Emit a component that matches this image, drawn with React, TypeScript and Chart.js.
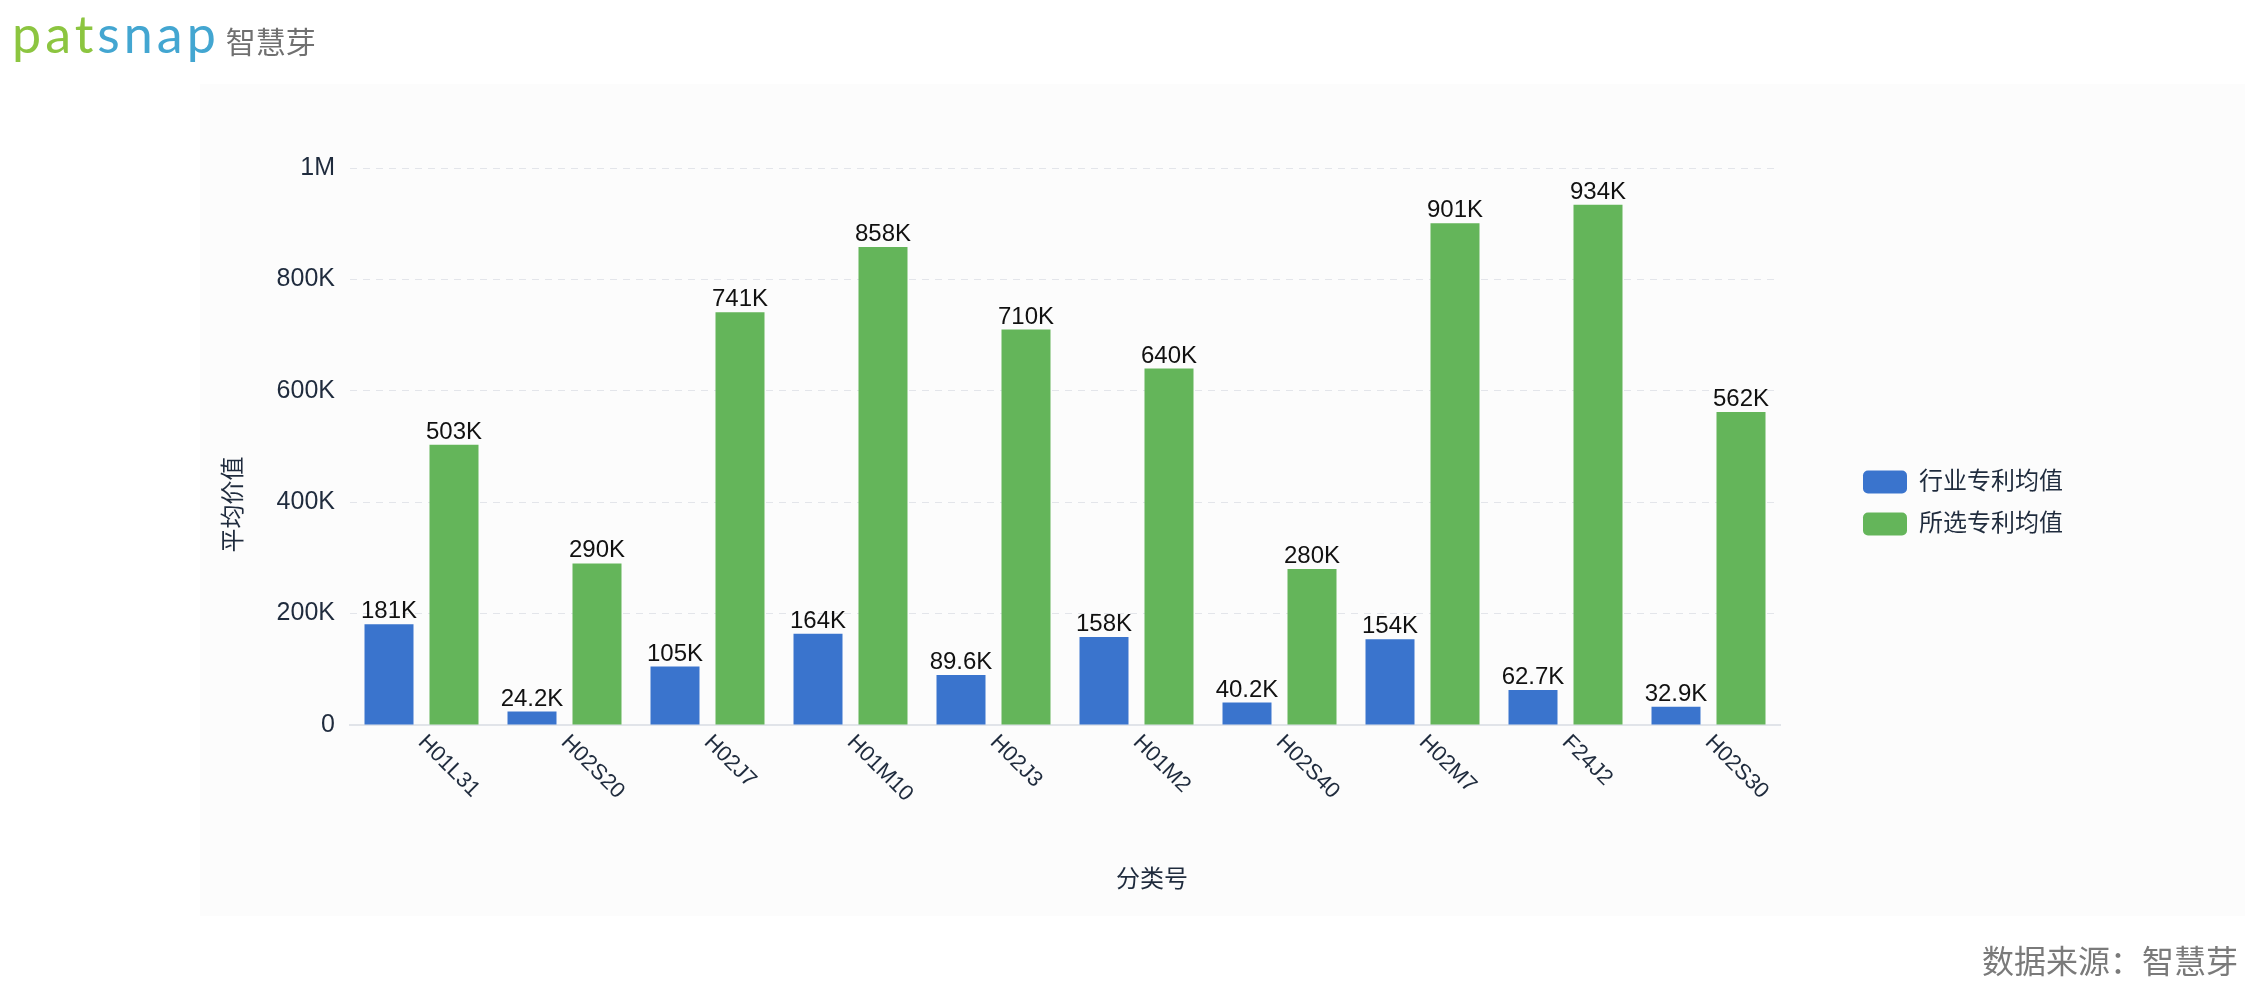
import React, { useEffect, useRef } from 'react';
import { Chart, registerables } from 'chart.js';

Chart.register(...registerables);

const categories = ['H01L31', 'H02S20', 'H02J7', 'H01M10', 'H02J3', 'H01M2', 'H02S40', 'H02M7', 'F24J2', 'H02S30'];
const industryAvg = [181000, 24200, 105000, 164000, 89600, 158000, 40200, 154000, 62700, 32900];
const selectedAvg = [503000, 290000, 741000, 858000, 710000, 640000, 280000, 901000, 934000, 562000];
const seriesNames = ['行业专利均值', '所选专利均值'];
const yTicks = [0, 200000, 400000, 600000, 800000, 1000000];
const yTickLabels = ['0', '200K', '400K', '600K', '800K', '1M'];
const xAxisTitle = '分类号';
const yAxisTitle = '平均价值';
const sourceText = '数据来源：智慧芽';

const FONT = '"Helvetica Neue", Helvetica, Arial, "Liberation Sans", "Noto Sans CJK SC", sans-serif';
const TEXT = '#1f2b3d';
const BLUE = '#3a74cd';
const GREEN = '#64b55a';

const fmtK = (v: number) => (v >= 1000000 ? (v / 1000000).toPrecision(3) + 'M' : (v / 1000).toPrecision(3) + 'K');

const legendShift = {
  id: 'legendShift',
  afterLayout(chart: any) {
    const lg = chart.legend;
    if (!lg) return;
    const dx = 65;
    const dy = -80;
    lg.left += dx;
    lg.top += dy;
    lg.bottom += dy;
    lg.right = lg.left + 360;
    lg.width = 360;
  },
};

const valueLabels = {
  id: 'valueLabels',
  afterDatasetsDraw(chart: any) {
    const ctx = chart.ctx;
    ctx.save();
    ctx.font = `24px ${FONT}`;
    ctx.fillStyle = '#111111';
    ctx.textAlign = 'center';
    ctx.textBaseline = 'alphabetic';
    chart.data.datasets.forEach((ds: any, di: number) => {
      const meta = chart.getDatasetMeta(di);
      meta.data.forEach((el: any, i: number) => {
        ctx.fillText(fmtK(ds.data[i] as number), el.x, el.y - 6);
      });
    });
    ctx.restore();
  },
};

const axisText = {
  id: 'axisText',
  afterDraw(chart: any) {
    const ctx = chart.ctx;
    const ca = chart.chartArea;
    const xs = chart.scales.x;
    ctx.save();
    ctx.fillStyle = TEXT;
    ctx.font = `22px ${FONT}`;
    ctx.textAlign = 'left';
    ctx.textBaseline = 'middle';
    categories.forEach((c, i) => {
      const x = xs.getPixelForTick(i);
      ctx.save();
      ctx.translate(x, ca.bottom + 14);
      ctx.rotate(Math.PI / 4);
      ctx.fillText(c, 0, 0);
      ctx.restore();
    });
    ctx.font = `24px ${FONT}`;
    ctx.textAlign = 'center';
    ctx.fillText(xAxisTitle, (ca.left + ca.right) / 2 + 87, ca.bottom + 155);
    ctx.save();
    ctx.translate(ca.left - 116, (ca.top + ca.bottom) / 2 + 58);
    ctx.rotate(-Math.PI / 2);
    ctx.fillText(yAxisTitle, 0, 0);
    ctx.restore();
    ctx.restore();
  },
};

export default function App() {
  const ref = useRef<HTMLCanvasElement>(null);
  useEffect(() => {
    document.body.style.margin = '0';
    const canvas = ref.current as HTMLCanvasElement;
    const chart = new Chart(canvas, {
      type: 'bar',
      data: {
        labels: categories,
        datasets: [
          {
            label: seriesNames[0],
            data: industryAvg,
            backgroundColor: BLUE,
            borderWidth: 0,
            categoryPercentage: 0.909,
            barPercentage: 0.754,
          },
          {
            label: seriesNames[1],
            data: selectedAvg,
            backgroundColor: GREEN,
            borderWidth: 0,
            categoryPercentage: 0.909,
            barPercentage: 0.754,
          },
        ],
      },
      options: {
        responsive: false,
        animation: false,
        devicePixelRatio: 1,
        layout: { padding: { top: 168, right: 282, left: 0, bottom: 0 } },
        plugins: {
          legend: {
            position: 'right',
            align: 'center',
            maxWidth: 200,
            labels: {
              boxWidth: 44,
              boxHeight: 23,
              padding: 18,
              useBorderRadius: true,
              borderRadius: 5,
              color: TEXT,
              font: { size: 24, family: FONT },
            },
          },
          tooltip: { enabled: false },
          title: { display: false },
        },
        scales: {
          x: {
            grid: { display: false },
            border: { display: true, color: '#e1e4e9', width: 2 },
            ticks: { display: false },
            afterFit: (s: any) => {
              s.height = 273;
            },
          },
          y: {
            min: 0,
            max: 1000000,
            grid: { color: '#e3e5ea', lineWidth: 1, drawTicks: false },
            border: { display: false, dash: [7, 6] },
            ticks: {
              stepSize: 200000,
              padding: 15,
              color: TEXT,
              font: { size: 25, family: FONT },
              callback: (v: any) => {
                const idx = yTicks.indexOf(Number(v));
                return idx >= 0 ? yTickLabels[idx] : '';
              },
            },
            afterFit: (s: any) => {
              s.width = 350;
            },
          },
        },
      } as any,
      plugins: [legendShift, valueLabels, axisText],
    });
    return () => chart.destroy();
  }, []);

  return (
    <div style={{ position: 'absolute', left: 0, top: 0, width: 2262, height: 998, background: '#ffffff', overflow: 'hidden' }}>
      <div style={{ position: 'absolute', left: 200, top: 84, width: 2045, height: 832, background: '#fcfcfc' }} />
      <canvas ref={ref} width={2262} height={998} style={{ position: 'absolute', left: 0, top: 0, width: 2262, height: 998 }} />
      <div
        style={{
          position: 'absolute',
          left: 12,
          top: 9,
          lineHeight: '48px',
          fontFamily: 'Lato, sans-serif',
          fontSize: 52,
          whiteSpace: 'nowrap',
        }}
      >
        <span style={{ fontWeight: 400, letterSpacing: 4, color: '#8cc540' }}>pat</span>
        <span style={{ fontWeight: 400, letterSpacing: 4, color: '#43a6d1' }}>snap</span>
        <span style={{ fontFamily: '"Noto Sans CJK SC", sans-serif', fontSize: 30, fontWeight: 400, color: '#707070', marginLeft: 6 }}>智慧芽</span>
      </div>
      <div
        style={{
          position: 'absolute',
          left: 1982,
          top: 943,
          lineHeight: '32px',
          fontSize: 32,
          fontFamily: '"Noto Sans CJK SC", sans-serif',
          color: '#7a7a7a',
          whiteSpace: 'nowrap',
        }}
      >
        {sourceText}
      </div>
    </div>
  );
}
